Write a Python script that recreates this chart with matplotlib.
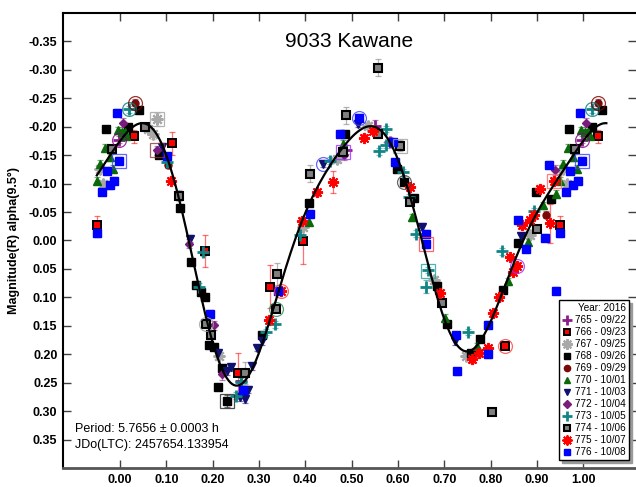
import numpy as np
import matplotlib
matplotlib.use("Agg")
import matplotlib.pyplot as plt
from matplotlib.lines import Line2D

plt.rcParams['font.family'] = ['Liberation Sans', 'DejaVu Sans']

title = "9033 Kawane"
ylabel = "Magnitude(R) alpha(9.5°)"
period_text = "Period: 5.7656 ± 0.0003 h"
epoch_text = "JDo(LTC): 2457654.133954"
legend_title = "Year: 2016"

# ---- observations: rotational phase, reduced magnitude, error ----
s765_label = "765 - 09/22"
s765_phase = [0.998, 0.551, 0.583, 0.262, 0.487]
s765_mag = [-0.177, -0.202, -0.174, 0.247, -0.160]
s765_err = [0.006, 0.010, 0.008, 0.015, 0.008]

s766_label = "766 - 09/23"
s766_phase = [0.951, 0.031, 0.113, 0.184, 0.254, 0.324, 0.395, 0.832]
s766_mag = [-0.028, -0.183, -0.171, 0.018, 0.233, 0.081, 0.001, 0.186]
s766_err = [0.015, 0.012, 0.020, 0.028, 0.036, 0.038, 0.040, 0.004]

s767_label = "767 - 09/25"
s767_phase = [0.079, 0.061, 0.072, 0.957, 0.964, 0.536, 0.468, 0.396, 0.678,
              0.747, 0.214, 0.886]
s767_mag = [-0.213, -0.196, -0.187, -0.126, -0.100, -0.202, -0.143, -0.024,
            0.069, 0.203, 0.203, -0.009]
s767_err = [0.012, 0.006, 0.008, 0.006, 0.006, 0.006, 0.006, 0.006, 0.006,
            0.006, 0.006, 0.006]

s768_label = "768 - 09/26"
s768_phase = [0.969, 0.041, 0.018, 0.085, 0.130, 0.153, 0.164, 0.175, 0.183,
              0.192, 0.202, 0.221, 0.211, 0.232, 0.307, 0.485, 0.409, 0.598,
              0.613, 0.634, 0.684, 0.706, 0.757, 0.778, 0.827, 0.859, 0.898,
              0.930]
s768_mag = [-0.196, -0.229, -0.199, -0.150, -0.058, 0.037, 0.078, 0.090, 0.100,
            0.184, 0.188, 0.224, 0.257, 0.282, 0.167, -0.187, -0.066, -0.126,
            -0.103, -0.075, 0.080, 0.146, 0.198, 0.174, 0.087, 0.004, -0.085,
            -0.073]
s768_err = [0.004] * 13 + [0.010] + [0.004] * 14

s769_label = "769 - 09/29"
s769_phase = [0.032, 0.104, 0.920]
s769_mag = [-0.241, -0.133, -0.045]
s769_err = [0.008, 0.006, 0.006]

s770_label = "770 - 10/01"
s770_phase = [0.996, 0.004, 0.011, 0.014, 0.968, 0.957, 0.978, 0.986, 0.950,
              0.482, 0.407, 0.630, 0.702, 0.770, 0.837, 0.914, 0.942, 0.881]
s770_mag = [-0.194, -0.190, -0.190, -0.184, -0.163, -0.135, -0.146, -0.126,
            -0.105, -0.170, -0.033, -0.041, 0.136, 0.186, 0.072, -0.062,
            -0.082, 0.002]
s770_err = [0.006] * 18

s771_label = "771 - 10/03"
s771_phase = [0.090, 0.152, 0.212, 0.230, 0.240, 0.259, 0.270, 0.277, 0.286,
              0.295, 0.306, 0.513, 0.438, 0.652, 0.724, 0.865]
s771_mag = [-0.164, -0.003, 0.198, 0.230, 0.223, 0.276, 0.279, 0.262, 0.221,
            0.189, 0.177, -0.205, -0.135, -0.024, 0.177, -0.008]
s771_err = [0.006] * 16

s772_label = "772 - 10/04"
s772_phase = [0.007, 0.079, 0.149, 0.204, 0.221, 0.484, 0.939]
s772_mag = [-0.207, -0.159, 0.006, 0.149, 0.235, -0.150, -0.124]
s772_err = [0.008, 0.008, 0.008, 0.008, 0.010, 0.008, 0.008]

s773_label = "773 - 10/05"
s773_phase = [0.019, 0.101, 0.179, 0.171, 0.250, 0.261, 0.315, 0.335, 0.454,
              0.389, 0.574, 0.560, 0.575, 0.612, 0.623, 0.639, 0.660, 0.666,
              0.751, 0.824, 0.894]
s773_mag = [-0.231, -0.138, 0.021, 0.081, 0.273, 0.248, 0.161, 0.147, -0.140,
            -0.009, -0.196, -0.157, -0.168, -0.120, -0.076, -0.012, 0.081,
            0.052, 0.161, 0.019, -0.051]
s773_err = [0.006] * 16 + [0.012] + [0.006] * 4

s774_label = "774 - 10/06"
s774_phase = [0.053, 0.983, 0.127, 0.185, 0.197, 0.270, 0.338, 0.337, 0.558,
              0.487, 0.482, 0.410, 0.556, 0.605, 0.626, 0.695, 0.804, 0.900]
s774_mag = [-0.200, -0.161, -0.079, 0.147, 0.167, 0.233, 0.059, 0.120, -0.304,
            -0.220, -0.155, -0.117, -0.187, -0.167, -0.068, 0.110, 0.301,
            -0.021]
s774_err = [0.006, 0.006, 0.010, 0.006, 0.006, 0.020, 0.020, 0.006, 0.015,
            0.015, 0.006, 0.015, 0.006, 0.010, 0.006, 0.006, 0.006, 0.006]

s775_label = "775 - 10/07"
s775_phase = [0.110, 0.322, 0.348, 0.459, 0.425, 0.392, 0.526, 0.547, 0.626,
              0.691, 0.759, 0.774, 0.795, 0.805, 0.819, 0.849, 0.857, 0.841,
              0.868, 0.886, 0.893, 0.929, 0.937, 0.907]
s775_mag = [-0.105, 0.139, 0.088, -0.103, -0.085, -0.035, -0.181, -0.193,
            -0.094, 0.093, 0.209, 0.198, 0.189, 0.128, 0.100, 0.055, 0.044,
            0.029, -0.027, -0.036, -0.044, -0.030, -0.105, -0.091]
s775_err = [0.006, 0.006, 0.006, 0.020, 0.006, 0.006, 0.006, 0.006, 0.006,
            0.006, 0.006, 0.006, 0.006, 0.006, 0.006, 0.006, 0.006, 0.006,
            0.006, 0.006, 0.006, 0.035, 0.006, 0.006]

s776_label = "776 - 10/08"
s776_phase = [0.993, 0.997, 0.971, 0.988, 0.978, 0.962, 0.950, 0.101, 0.194,
              0.266, 0.342, 0.515, 0.474, 0.410, 0.590, 0.594, 0.660, 0.660,
              0.726, 0.727, 0.794, 0.794, 0.877, 0.859, 0.927, 0.918, 0.942]
s776_mag = [-0.225, -0.140, -0.123, -0.105, -0.097, -0.086, -0.013, -0.148,
            0.129, 0.262, 0.088, -0.216, -0.188, -0.047, -0.173, -0.138,
            -0.012, 0.007, 0.166, 0.230, 0.148, 0.200, 0.015, -0.036, -0.133,
            -0.005, 0.088]
s776_err = [0.006] * 27

# highlighted observations (open outline drawn around the point)
ring_phase = [0.998, 0.019, 0.032, 0.079, 0.079, 0.232, 0.185, 0.337, 0.348,
              0.438, 0.515, 0.482, 0.605, 0.613, 0.660, 0.666, 0.832, 0.857,
              0.937, 0.997]
ring_mag = [-0.177, -0.231, -0.241, -0.213, -0.159, 0.282, 0.147, 0.120,
            0.088, -0.135, -0.216, -0.155, -0.167, -0.103, 0.007, 0.054,
            0.186, 0.044, -0.105, -0.140]
ring_color = ['#8B008B', '#008080', '#800000', '#A0A0A0', '#8B3A3A', '#202020',
              '#A0A0A0', '#2E8B57', '#FF4040', '#4040FF', '#4040FF', '#9B30FF',
              '#A0A0A0', '#404040', '#FF4040', '#20A0A0', '#FF4040', '#9B30FF',
              '#FF6060', '#4040FF']
ring_shape = ['o', 'o', 'o', 's', 's', 's', 'o', 'o', 'o', 'o', 'o', 's', 's',
              'o', 's', 's', 'o', 'o', 's', 's']

series = [
    (s765_label, s765_phase, s765_mag, s765_err,
     dict(marker='+', color='#8B1C8B', ms=8, mew=2.0)),
    (s766_label, s766_phase, s766_mag, s766_err,
     dict(marker='s', color='#FF0000', mfc='#FF0000', mec='black', ms=5.5, mew=1.4)),
    (s767_label, s767_phase, s767_mag, s767_err,
     dict(marker=(8, 2, 0), color='#A8A8A8', ms=8.5, mew=1.5)),
    (s768_label, s768_phase, s768_mag, s768_err,
     dict(marker='s', color='black', ms=5.5, mew=1.0)),
    (s769_label, s769_phase, s769_mag, s769_err,
     dict(marker='o', color='#7A0A0A', ms=5, mew=1.0)),
    (s770_label, s770_phase, s770_mag, s770_err,
     dict(marker='^', color='#0A6A0A', ms=5.5, mew=1.0)),
    (s771_label, s771_phase, s771_mag, s771_err,
     dict(marker='v', color='#101070', ms=5.5, mew=1.0)),
    (s772_label, s772_phase, s772_mag, s772_err,
     dict(marker='D', color='#7A1C7A', ms=4.2, mew=1.0)),
    (s773_label, s773_phase, s773_mag, s773_err,
     dict(marker='+', color='#108585', ms=8, mew=2.0)),
    (s774_label, s774_phase, s774_mag, s774_err,
     dict(marker='s', color='#7A7A7A', mfc='#808080', mec='black', ms=5.5, mew=1.5)),
    (s775_label, s775_phase, s775_mag, s775_err,
     dict(marker=(8, 2, 0), color='#FF0000', ms=8, mew=1.4)),
    (s776_label, s776_phase, s776_mag, s776_err,
     dict(marker='s', color='#0000FF', ms=5.5, mew=1.0)),
]

PLOT_LO, PLOT_HI = -0.055, 1.05


def wrapped(phase, *vals):
    """Repeat points near the ends of the cycle so the plot spans one cycle + margins."""
    p = np.asarray(phase, float)
    out_p = [p]
    out_v = [[np.asarray(v)] for v in vals]
    for shift in (1.0, -1.0):
        q = p + shift
        sel = (q >= PLOT_LO) & (q <= PLOT_HI)
        out_p.append(q[sel])
        for lst, v in zip(out_v, vals):
            lst.append(np.asarray(v)[sel])
    return (np.concatenate(out_p),) + tuple(np.concatenate(l) for l in out_v)


fig = plt.figure(figsize=(6.36, 4.87), dpi=100)
ax = fig.add_axes([63 / 636, 19 / 487, 573 / 636, 455 / 487])

for label, ph, mg, er, st in series:
    p, m, e = wrapped(ph, mg, er)
    ax.errorbar(p, m, yerr=e, fmt='none', ecolor=st['color'], alpha=0.55,
                elinewidth=0.9, capsize=2.5, capthick=0.9, zorder=2)

for label, ph, mg, er, st in series:
    p, m = wrapped(ph, mg)
    kw = dict(st)
    col = kw.pop('color')
    kw.setdefault('mfc', col)
    kw.setdefault('mec', col)
    ax.plot(p, m, linestyle='none', color=col, zorder=3, **kw)

rp, rm, rc, rs = wrapped(ring_phase, ring_mag, np.array(ring_color), np.array(ring_shape))
for p, m, c, s in zip(rp, rm, rc, rs):
    ax.plot([p], [m], linestyle='none', marker=s, ms=10,
            mfc='none', mec=c, mew=0.9, alpha=0.8, zorder=4)

# Fourier-series fit of the combined lightcurve
all_p = np.concatenate([np.asarray(s[1], float) for s in series])
all_m = np.concatenate([np.asarray(s[2], float) for s in series])


def design(x, order=4):
    cols = [np.ones_like(x)]
    for k in range(1, order + 1):
        cols.append(np.cos(2 * np.pi * k * x))
        cols.append(np.sin(2 * np.pi * k * x))
    return np.column_stack(cols)


keep = np.ones(all_p.size, bool)
for _ in range(4):
    coef, *_ = np.linalg.lstsq(design(all_p[keep]), all_m[keep], rcond=None)
    resid = all_m - design(all_p) @ coef
    keep = np.abs(resid) < 2.5 * np.std(resid[keep])

xs = np.linspace(-0.05, 1.05, 600)
ax.plot(xs, design(xs) @ coef, color='black', lw=1.6, zorder=5)

ax.set_xlim(-0.123, 1.114)
ax.set_ylim(0.40, -0.40)
xt = np.arange(0, 1.001, 0.1)
yt = np.arange(-0.35, 0.351, 0.05)
ax.set_xticks(xt)
ax.set_yticks(yt)
ax.set_xticklabels([f"{v:.2f}" for v in xt])
ax.set_yticklabels([f"{v:.2f}".replace("-0.00", "0.00") for v in yt])
ax.tick_params(direction='in', length=6, width=1.0, top=True, right=True,
               labelsize=9, pad=4, color='#404040')
for lab in ax.get_xticklabels() + ax.get_yticklabels():
    lab.set_fontweight('bold')

ax.spines['right'].set_visible(False)
ax.spines['top'].set_linewidth(1.5)
ax.spines['left'].set_linewidth(1.5)
ax.spines['bottom'].set_linewidth(2.0)
ax.spines['bottom'].set_color('#555555')

ax.set_ylabel(ylabel, fontsize=9, fontweight='bold', labelpad=6)
ax.text(0.50, 0.938, title, transform=ax.transAxes, fontsize=15,
        ha='center', va='center')
fig.text(75 / 636, 1 - 429 / 487, period_text, fontsize=9, va='center')
fig.text(75 / 636, 1 - 445 / 487, epoch_text, fontsize=9, va='center')

handles = []
for label, ph, mg, er, st in series:
    kw = dict(st)
    col = kw.pop('color')
    kw.setdefault('mfc', col)
    kw.setdefault('mec', col)
    kw['ms'] = kw['ms'] * 0.9
    handles.append(Line2D([], [], linestyle='none', color=col, label=label, **kw))

leg = fig.legend(handles=handles, title=legend_title, loc='lower right',
                 bbox_to_anchor=(629 / 636, 27 / 487), fontsize=7.2,
                 title_fontsize=7.2, alignment='right', frameon=True,
                 fancybox=False, edgecolor='black', framealpha=1,
                 shadow={'color': '#9a9a9a', 'alpha': 1.0, 'ox': 2, 'oy': -2},
                 handlelength=0.9, handletextpad=0.4, labelspacing=0.2,
                 borderpad=0.3, borderaxespad=0)
leg.get_frame().set_linewidth(1.0)

fig.savefig("out.png", dpi=100)
